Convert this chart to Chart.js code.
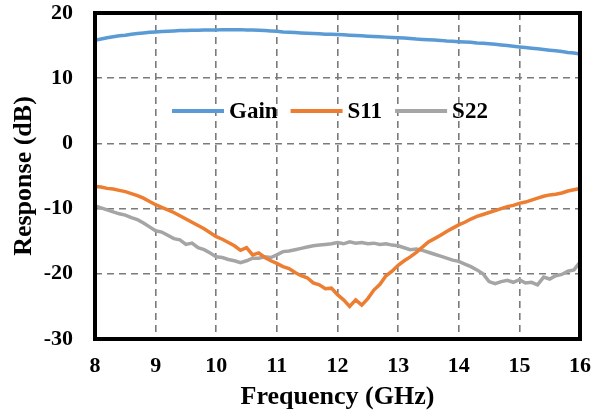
<!DOCTYPE html>
<html>
<head>
<meta charset="utf-8">
<script src="https://cdn.jsdelivr.net/npm/chart.js@4/dist/chart.umd.min.js"></script>
<style>
  html, body { margin: 0; padding: 0; background: #fff; }
  #wrap { width: 602px; height: 417px; position: relative; }
</style>
</head>
<body>
<div id="wrap"><canvas id="chart"></canvas></div>
<script>
// frequency points (GHz)
var freq = [
  8.0, 8.1, 8.2, 8.3, 8.4, 8.5, 8.6, 8.7, 8.8, 8.9,
  9.0, 9.1, 9.2, 9.3, 9.4, 9.5, 9.6, 9.7, 9.8, 9.9,
  10.0, 10.1, 10.2, 10.3, 10.4, 10.5, 10.6, 10.7, 10.8, 10.9,
  11.0, 11.1, 11.2, 11.3, 11.4, 11.5, 11.6, 11.7, 11.8, 11.9,
  12.0, 12.1, 12.2, 12.3, 12.4, 12.5, 12.6, 12.7, 12.8, 12.9,
  13.0, 13.1, 13.2, 13.3, 13.4, 13.5, 13.6, 13.7, 13.8, 13.9,
  14.0, 14.1, 14.2, 14.3, 14.4, 14.5, 14.6, 14.7, 14.8, 14.9,
  15.0, 15.1, 15.2, 15.3, 15.4, 15.5, 15.6, 15.7, 15.8, 15.9,
  16.0
];

var gain = [
  15.8, 16.0, 16.2, 16.35, 16.5, 16.6, 16.75, 16.85, 16.95, 17.05,
  17.1, 17.15, 17.2, 17.25, 17.3, 17.3, 17.35, 17.35, 17.4, 17.4,
  17.4, 17.45, 17.45, 17.45, 17.45, 17.4, 17.4, 17.35, 17.3, 17.25,
  17.2, 17.1, 17.05, 17.0, 16.95, 16.9, 16.85, 16.8, 16.75, 16.75,
  16.7, 16.65, 16.6, 16.55, 16.5, 16.45, 16.4, 16.35, 16.3, 16.25,
  16.2, 16.15, 16.1, 16.0, 15.95, 15.9, 15.85, 15.8, 15.7, 15.65,
  15.6, 15.55, 15.5, 15.4, 15.35, 15.3, 15.2, 15.1, 15.0, 14.9,
  14.8, 14.7, 14.6, 14.5, 14.4, 14.3, 14.2, 14.1, 13.95, 13.85,
  13.7
];

var s11 = [
  -6.6, -6.7, -6.9, -7.0, -7.2, -7.4, -7.7, -8.0, -8.4, -8.9,
  -9.4, -9.8, -10.2, -10.6, -11.1, -11.6, -12.1, -12.6, -13.1, -13.7,
  -14.3, -14.7, -15.2, -15.7, -16.4, -16.0, -17.1, -16.8, -17.5, -18.0,
  -18.4, -18.9, -19.2, -19.8, -20.3, -20.6, -21.4, -21.7, -22.3, -22.2,
  -23.2, -24.0, -25.0, -24.0, -24.8, -23.8, -22.5, -21.6, -20.3, -19.6,
  -18.7, -18.0, -17.4, -16.7, -15.9, -15.1, -14.6, -14.1, -13.5, -13.0,
  -12.5, -12.1, -11.6, -11.2, -10.9, -10.6, -10.3, -10.0, -9.7, -9.5,
  -9.2, -9.0, -8.7, -8.4, -8.1, -7.9, -7.8, -7.6, -7.3, -7.1,
  -6.9
];

var s22 = [
  -9.6, -9.9, -10.2, -10.5, -10.8, -11.0, -11.4, -11.7, -12.2, -12.8,
  -13.4, -13.6, -14.1, -14.6, -14.8, -15.5, -15.3, -16.0, -16.3, -16.8,
  -17.4, -17.5, -17.8, -18.0, -18.3, -18.0, -17.6, -17.6, -17.4, -17.5,
  -17.1, -16.6, -16.5, -16.3, -16.1, -15.9, -15.7, -15.6, -15.5, -15.4,
  -15.2, -15.4, -15.1, -15.3, -15.2, -15.4, -15.3, -15.5, -15.4, -15.6,
  -15.7, -16.0, -16.3, -16.2, -16.4, -16.7, -17.0, -17.3, -17.6, -17.9,
  -18.1, -18.5, -18.9, -19.4, -20.0, -21.2, -21.5, -21.2, -21.0, -21.3,
  -20.9, -21.4, -21.3, -21.7, -20.5, -20.8, -20.3, -20.1, -19.6, -19.4,
  -18.2
];

var seriesNames = ['Gain', 'S11', 'S22'];
var seriesColors = ['#5B9BD5', '#ED7D31', '#A5A5A5'];

var FONT = "'Liberation Serif', 'Times New Roman', serif";

function toPoints(values) {
  return freq.map(function(f, i) { return { x: f, y: values[i] }; });
}

// thick black frame around the plot area
var framePlugin = {
  id: 'frame',
  afterDatasetsDraw: function(chart) {
    var a = chart.chartArea, ctx = chart.ctx;
    ctx.save();
    ctx.strokeStyle = '#000';
    ctx.lineWidth = 4;
    ctx.strokeRect(a.left, a.top, a.right - a.left, a.bottom - a.top);
    ctx.restore();
  }
};

// legend drawn inside the plot area, one row
var insideLegend = {
  id: 'insideLegend',
  afterDraw: function(chart) {
    var ctx = chart.ctx;
    var x = 172, y = 111;
    ctx.save();
    ctx.font = 'bold 23px ' + FONT;
    ctx.textBaseline = 'middle';
    ctx.fillStyle = '#000';
    chart.data.datasets.forEach(function(ds) {
      ctx.strokeStyle = ds.borderColor;
      ctx.lineWidth = 4;
      ctx.beginPath();
      ctx.moveTo(x, y);
      ctx.lineTo(x + 52, y);
      ctx.stroke();
      x += 57;
      ctx.fillText(ds.label, x, y + 1);
      x += ctx.measureText(ds.label).width + 13;
    });
    ctx.restore();
  }
};

new Chart(document.getElementById('chart'), {
  type: 'line',
  data: {
    datasets: [
      { label: seriesNames[0], data: toPoints(gain), borderColor: seriesColors[0] },
      { label: seriesNames[1], data: toPoints(s11), borderColor: seriesColors[1] },
      { label: seriesNames[2], data: toPoints(s22), borderColor: seriesColors[2] }
    ]
  },
  options: {
    responsive: true,
    maintainAspectRatio: false,
    animation: false,
    layout: { padding: { top: 13, right: 22, left: 0, bottom: 0 } },
    elements: {
      point: { radius: 0 },
      line: { borderWidth: 3.5, tension: 0 }
    },
    plugins: {
      legend: { display: false },
      tooltip: { enabled: false }
    },
    scales: {
      x: {
        type: 'linear',
        min: 8,
        max: 16,
        afterFit: function(scale) {
          scale.height = 78;
          scale.paddingLeft = 0;
          scale.paddingRight = 0;
        },
        ticks: {
          stepSize: 1,
          padding: 14,
          color: '#000',
          font: { family: FONT, size: 22, weight: 'bold' }
        },
        grid: {
          color: '#7a7a7a',
          lineWidth: 1.6,
          drawTicks: false
        },
        border: { display: false, dash: [7, 5] },
        title: {
          display: true,
          text: 'Frequency (GHz)',
          color: '#000',
          padding: { top: 0, bottom: 4 },
          font: { family: FONT, size: 26, weight: 'bold' }
        }
      },
      y: {
        min: -30,
        max: 20,
        afterFit: function(scale) {
          scale.width = 95;
          scale.paddingTop = 0;
          scale.paddingBottom = 0;
        },
        ticks: {
          stepSize: 10,
          padding: 22,
          color: '#000',
          font: { family: FONT, size: 22, weight: 'bold' }
        },
        grid: {
          color: '#7a7a7a',
          lineWidth: 1.6,
          drawTicks: false
        },
        border: { display: false, dash: [7, 5] },
        title: {
          display: true,
          text: 'Response (dB)',
          color: '#000',
          padding: { top: 9, bottom: 0 },
          font: { family: FONT, size: 26, weight: 'bold' }
        }
      }
    }
  },
  plugins: [framePlugin, insideLegend]
});
</script>
</body>
</html>
